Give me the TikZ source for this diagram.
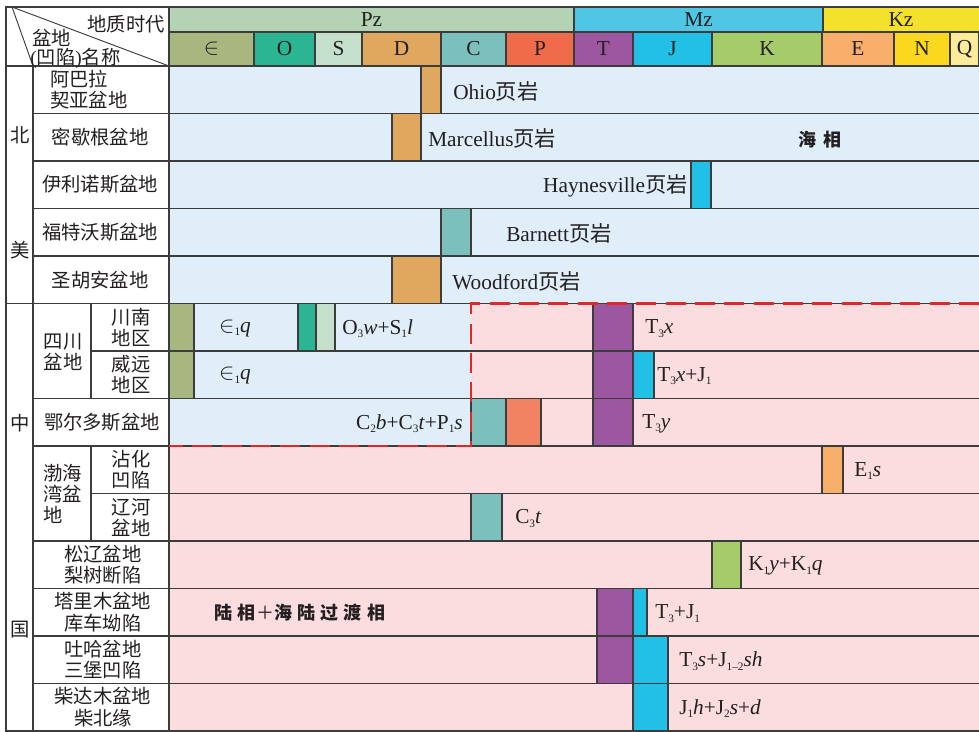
\documentclass[tikz,border=0pt]{standalone}
\usepackage{fontspec}
\setmainfont{Liberation Serif}
\newfontfamily\cjk{Noto Sans CJK SC}
\usetikzlibrary{positioning}

\definecolor{gridc}{HTML}{3C3C3C}
\definecolor{textc}{HTML}{231F20}
\definecolor{pzc}{HTML}{B3D3B4}
\definecolor{mzc}{HTML}{4EC6E4}
\definecolor{kzc}{HTML}{F3E12B}
\definecolor{camc}{HTML}{A8B77F}
\definecolor{ordc}{HTML}{2BB592}
\definecolor{silc}{HTML}{C4E0CD}
\definecolor{devc}{HTML}{DFA85E}
\definecolor{carc}{HTML}{7CC0BE}
\definecolor{perc}{HTML}{F06B4A}
\definecolor{perlc}{HTML}{F08462}
\definecolor{tric}{HTML}{9C57A0}
\definecolor{jurc}{HTML}{22BFE6}
\definecolor{crec}{HTML}{A6CC6A}
\definecolor{eoc}{HTML}{F8AF6C}
\definecolor{neoc}{HTML}{F9D81E}
\definecolor{quac}{HTML}{FDEB9C}
\definecolor{seac}{HTML}{E0EEF9}
\definecolor{landc}{HTML}{FBDDE0}
\definecolor{dashc}{HTML}{E0282A}

\newcommand{\zh}[1]{{\cjk #1}}
\newcommand{\sbx}[1]{\raisebox{-2.5pt}{\fontsize{8.5}{8.5}\selectfont #1}}

\tikzset{
  rule/.style={draw=gridc, line width=1pt},
  unitbox/.style={draw=gridc, line width=1pt},
  txt/.style={inner sep=0pt, text=textc, font=\fontsize{16}{18}\selectfont},
  basin/.style={inner sep=0pt, text=textc, align=center,
    font=\cjk\fontsize{14.5}{16}\selectfont},
  facies/.style={inner sep=0pt, text=textc, font=\cjk\bfseries\fontsize{13.5}{15}\selectfont},
  sealine/.style={draw=dashc, line width=1.8pt, dash pattern=on 15pt off 7pt},
}

\begin{document}
\begin{tikzpicture}[x=0.75pt, y=-0.75pt]
\useasboundingbox (0,0) rectangle (979,732);

% era and period header
\filldraw[rule, fill=pzc] (169,7) rectangle (574,32);
\filldraw[rule, fill=mzc] (574,7) rectangle (823,32);
\filldraw[rule, fill=kzc] (823,7) rectangle (985,32);
\node[txt] (pz) at (371.5,19.5) {Pz};
\node[txt] (mz) at (698.5,19.5) {Mz};
\node[txt] (kz) at (901,19.5) {Kz};
\foreach \a/\b/\c/\t [count=\i] in {169/254/camc/{\fontsize{19}{19}\selectfont$\in$},
    254/315/ordc/O, 315/362/silc/S, 362/441/devc/D, 441/506/carc/C, 506/574/perc/P,
    574/633/tric/T, 633/712/jurc/J, 712/822/crec/K, 822/894/eoc/E, 894/950/neoc/N,
    950/979/quac/Q}
{
  \filldraw[rule, fill=\c] (\a,32) rectangle (\b,66);
  \node[txt] (per\i) at ({(\a+\b)/2},49) {\t};
}

% backgrounds
\fill[seac] (169,66) rectangle (979,303.5);
\fill[seac] (169,303.5) rectangle (471,446);
\fill[landc] (471,303.5) rectangle (979,446);
\fill[landc] (169,446) rectangle (979,731);

% shale units
\foreach \a/\b/\k/\c in {421/441/1/devc, 392/421/2/devc, 691/711/3/jurc, 441/471/4/carc,
    392/441/5/devc, 169/194/6/camc, 298/316/6/ordc, 316/335/6/silc, 593/633/6/tric,
    169/194/7/camc, 593/633/7/tric, 633/654/7/jurc, 471/506/8/carc, 506/541/8/perlc,
    593/633/8/tric, 822/843/9/eoc, 471/502/10/carc, 712/741/11/crec, 597/633/12/tric,
    633/647/12/jurc, 597/633/13/tric, 633/668/13/jurc, 633/668/14/jurc}
  \filldraw[unitbox, fill=\c] (\a,{66+47.5*(\k-1)}) rectangle (\b,{66+47.5*\k});

% grid
\foreach \k in {1,...,13}
  \draw[rule] (169,{66+47.5*\k}) -- (979,{66+47.5*\k});
\foreach \k in {1,2,3,4,7,8,10,11,12,13}
  \draw[rule] (33,{66+47.5*\k}) -- (169,{66+47.5*\k});
\foreach \k in {6,9}
  \draw[rule] (91,{66+47.5*\k}) -- (169,{66+47.5*\k});
\draw[rule] (6,303.5) -- (169,303.5);
\draw[rule] (6,66) -- (979,66);
\draw[rule] (33,66) -- (33,731);
\draw[rule] (169,7) -- (169,731);
\draw[rule] (91,303.5) -- (91,398.5);
\draw[rule] (91,446) -- (91,541);
\draw[rule, line width=1.3pt] (979,7) -- (6,7) -- (6,731) -- (979,731);
\draw[rule, line width=0.7pt] (12,7) -- (169,66);
\draw[rule, line width=0.7pt] (12,7) -- (33,66);

% marine / terrestrial boundary
\draw[sealine] (979,303.5) -- (471,303.5) -- (471,446) -- (169,446);

% header labels
\node[basin, anchor=east] (era) at (165,24) {地质时代};
\node[basin, anchor=west] (bas) at (32,38) {盆地};
\node[basin, anchor=west] (dep) at (30,58.5) {\textrm{(}凹陷\textrm{)}名称};

% region column
\node[basin] (bei) at (20,135) {北};
\node[basin] (mei) at (20,250) {美};
\node[basin] (zhong) at (20,423) {中};
\node[basin] (guo) at (20,630) {国};

% basin names
\node[basin, align=left, anchor=west] (app) at (50,89.75) {阿巴拉\\契亚盆地};
\node[basin] (mich) at (100,137.25) {密歇根盆地};
\node[basin] (ill) at (100,184.75) {伊利诺斯盆地};
\node[basin] (fw) at (100,232.25) {福特沃斯盆地};
\node[basin] (sj) at (100,279.75) {圣胡安盆地};
\node[basin] (sc) at (63,352) {四川\\盆地};
\node[basin] (scn) at (131,327.25) {川南\\地区};
\node[basin] (scw) at (131,374.75) {威远\\地区};
\node[basin] (ord) at (102,422.25) {鄂尔多斯盆地};
\node[basin, align=left, anchor=west] (bh) at (43,494) {渤海\\湾盆\\地};
\node[basin] (zh) at (131,469.75) {沾化\\凹陷};
\node[basin] (lh) at (131,517.25) {辽河\\盆地};
\node[basin] (sl) at (103,564.75) {松辽盆地\\梨树断陷};
\node[basin] (tl) at (103,612.25) {塔里木盆地\\库车坳陷};
\node[basin] (th) at (103,659.75) {吐哈盆地\\三堡凹陷};
\node[basin] (cd) at (103,707.25) {柴达木盆地\\柴北缘};

% shale labels
\node[txt, anchor=west] (ohio) at (453,91) {Ohio\zh{页岩}};
\node[txt, anchor=west] (marc) at (428,138.5) {Marcellus\zh{页岩}};
\node[txt, anchor=east] (hayn) at (688,186) {Haynesville\zh{页岩}};
\node[txt, anchor=west] (barn) at (506,233.5) {Barnett\zh{页岩}};
\node[txt, anchor=west] (wood) at (452,281) {Woodford\zh{页岩}};
\node[txt] (qa) at (235,328.5) {$\in$\sbx{1}\textit{q}};
\node[txt, anchor=west] (ow) at (342,328.5) {O\sbx{3}\textit{w}+S\sbx{1}\textit{l}};
\node[txt, anchor=west] (tx) at (645,328.5) {T\sbx{3}\textit{x}};
\node[txt] (qb) at (235,376) {$\in$\sbx{1}\textit{q}};
\node[txt, anchor=west] (txj) at (657,376) {T\sbx{3}\textit{x}+J\sbx{1}};
\node[txt, anchor=east] (cbt) at (463,423.5) {C\sbx{2}\textit{b}+C\sbx{3}\textit{t}+P\sbx{1}\textit{s}};
\node[txt, anchor=west] (ty) at (642,423.5) {T\sbx{3}\textit{y}};
\node[txt, anchor=west] (es) at (854,471) {E\sbx{1}\textit{s}};
\node[txt, anchor=west] (ct) at (515,518.5) {C\sbx{3}\textit{t}};
\node[txt, anchor=west] (kyq) at (748,566) {K\sbx{1}\textit{y}+K\sbx{1}\textit{q}};
\node[txt, anchor=west] (tj) at (655,613.5) {T\sbx{3}+J\sbx{1}};
\node[txt, anchor=west] (tsj) at (679,661) {T\sbx{3}\textit{s}+J\sbx{1--2}\textit{sh}};
\node[txt, anchor=west] (jhs) at (679,708.5) {J\sbx{1}\textit{h}+J\sbx{2}\textit{s}+\textit{d}};

% facies labels
\node[facies] (marine) at (820,140) {海\hspace{5pt}相};
\node[facies] (land) at (300,613) {陆\hspace{4pt}相{\mdseries ＋}海\hspace{4pt}陆\hspace{4pt}过\hspace{4pt}渡\hspace{4pt}相};
\end{tikzpicture}
\end{document}
